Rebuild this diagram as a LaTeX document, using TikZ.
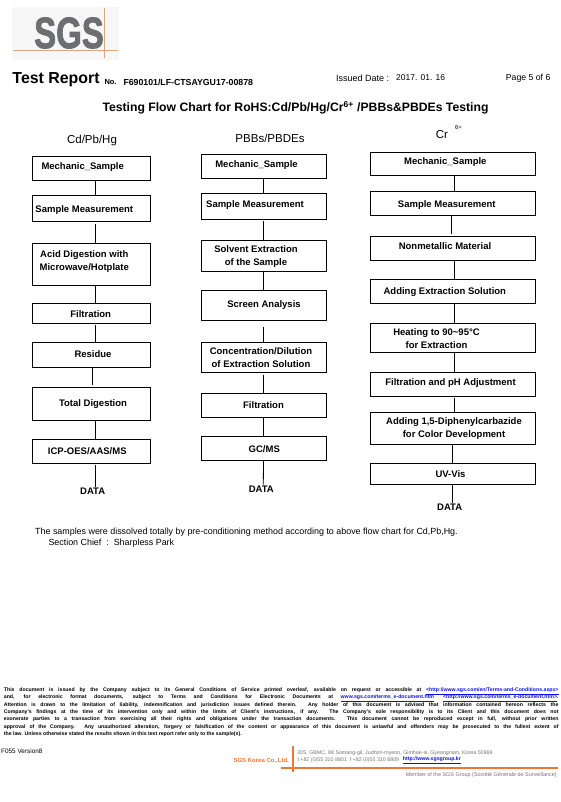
\documentclass[tikz,border=0pt]{standalone}
\usepackage{fontspec}
\setmainfont{Liberation Sans}
\newfontfamily\logofont[FakeBold=2]{Liberation Sans Bold}
\definecolor{sgsorange}{HTML}{EE7733}
\definecolor{sgsgray}{HTML}{6D6E71}
\definecolor{sgsline}{HTML}{D9A878}
\definecolor{sgslink}{HTML}{1111DD}
\tikzset{
  stepbox/.style={draw,rectangle,line width=1pt,inner sep=0pt,outer sep=0pt},
  colA/.style={stepbox,minimum width=118pt},
  colB/.style={stepbox,minimum width=125pt},
  colC/.style={stepbox,minimum width=165.3pt},
  steptext/.style={font=\fontsize{9.5}{13.5}\selectfont\bfseries,align=center,inner sep=0pt},
  datatext/.style={font=\fontsize{9.5}{12}\selectfont\bfseries,inner sep=1pt},
  headtext/.style={font=\fontsize{11.5}{14}\selectfont,inner sep=0pt},
  plain/.style={inner sep=0pt,anchor=west},
  link/.style={line width=.8pt}
}
\begin{document}
\begin{tikzpicture}[x=1pt,y=-1pt]
  \useasboundingbox (0,0) rectangle (561,802);

  % logo
  \node[fill=black!3,minimum width=107pt,minimum height=53pt,inner sep=0pt] (logo) at (65.5,33.5) {};
  \node[text=sgsgray,inner sep=0pt,font=\fontsize{44}{44}\logofont] (sgs) at (69,33) {\scalebox{.75}[1]{SGS}};
  \draw[sgsline,line width=.7pt] (13,50) -- (118,50) (104,8) -- (104,58);

  % page head
  \node[plain,font=\fontsize{15.9}{18}\selectfont\bfseries] (report) at (12.3,79.3) {Test Report};
  \node[plain,font=\fontsize{7.5}{9}\selectfont\bfseries] (no) at (104.3,82) {No.};
  \node[plain,font=\fontsize{8.75}{9}\selectfont\bfseries] (num) at (123.3,82) {F690101/LF-CTSAYGU17-00878};
  \node[plain,font=\fontsize{9}{10}\selectfont] (issued) at (336,78.3) {Issued Date :};
  \node[plain,font=\fontsize{8.5}{10}\selectfont] (date) at (396,77.7) {2017. 01. 16};
  \node[plain,font=\fontsize{8.7}{10}\selectfont] (page) at (505.7,78) {Page 5 of 6};
  \node[plain,font=\fontsize{12.2}{14}\selectfont\bfseries] (title) at (102.3,107.7) {Testing Flow Chart for RoHS:Cd/Pb/Hg/Cr\textsuperscript{6+} /PBBs\&PBDEs Testing};

  % column heads
  \node[headtext] (headA) at (92,140.7) {Cd/Pb/Hg};
  \node[headtext] (headB) at (270,138) {PBBs/PBDEs};
  \node[headtext] (headC) at (442,135) {Cr};
  \node[inner sep=0pt,font=\fontsize{6}{7}\selectfont] (supC) at (458.5,127.5) {6+};

  % Cd/Pb/Hg
  \node[colA,minimum height=24pt,label={[steptext,xshift=-9pt,yshift=2pt]center:Mechanic\_Sample}] (A1) at (91.7,168.7) {};
  \node[colA,minimum height=25.7pt,label={[steptext,xshift=-7.4pt,yshift=-1pt]center:Sample Measurement}] (A2) at (91.7,208.8) {};
  \node[colA,minimum height=42pt,label={[steptext,xshift=-7.4pt,yshift=3pt]center:Acid Digestion with\\Microwave/Hotplate}] (A3) at (91.7,264.3) {};
  \node[colA,minimum height=20pt,label={[steptext,xshift=-1pt,yshift=-1pt]center:Filtration}] (A4) at (91.7,313.3) {};
  \node[colA,minimum height=25.7pt,label={[steptext,xshift=1.3pt,yshift=1pt]center:Residue}] (A5) at (91.7,355.1) {};
  \node[colA,minimum height=32.7pt,label={[steptext,xshift=1.3pt]center:Total Digestion}] (A6) at (91.7,403.7) {};
  \node[colA,minimum height=24pt,label={[steptext,xshift=-4.4pt]center:ICP-OES/AAS/MS}] (A7) at (91.7,451) {};
  \node[datatext] (A8) at (92.7,491) {DATA};

  % PBBs/PBDEs
  \node[colB,minimum height=24pt,label={[steptext,xshift=-7pt,yshift=1.6pt]center:Mechanic\_Sample}] (B1) at (263.5,166.3) {};
  \node[colB,minimum height=25.6pt,label={[steptext,xshift=-8.5pt,yshift=1.5pt]center:Sample Measurement}] (B2) at (263.5,206.5) {};
  \node[colB,minimum height=30.7pt,label={[steptext,xshift=-7.5pt]center:Solvent Extraction\\of the Sample}] (B3) at (263.5,256.3) {};
  \node[colB,minimum height=30pt,label={[steptext,xshift=.5pt,yshift=.7pt]center:Screen Analysis}] (B4) at (263.5,305.7) {};
  \node[colB,minimum height=30.4pt,label={[steptext,xshift=-2.5pt]center:Concentration/Dilution\\of Extraction Solution}] (B5) at (263.5,357.5) {};
  \node[colB,minimum height=23.7pt,label={[steptext,yshift=.8pt]center:Filtration}] (B6) at (263.5,405.8) {};
  \node[colB,minimum height=24pt,label={[steptext,xshift=.8pt,yshift=-.3pt]center:GC/MS}] (B7) at (263.5,448.7) {};
  \node[datatext] (B8) at (261.3,489) {DATA};

  % Cr6+
  \node[colC,minimum height=23.4pt,label={[steptext,xshift=-8pt,yshift=1.7pt]center:Mechanic\_Sample}] (C1) at (453.3,164) {};
  \node[colC,minimum height=23.6pt,label={[steptext,xshift=-6.5pt,yshift=-1.2pt]center:Sample Measurement}] (C2) at (453.3,203.5) {};
  \node[colC,minimum height=23.6pt,label={[steptext,xshift=-8.3pt,yshift=2.8pt]center:Nonmetallic Material}] (C3) at (453.3,248.5) {};
  \node[colC,minimum height=23.7pt,label={[steptext,xshift=-8.5pt]center:Adding Extraction Solution}] (C4) at (453.3,291.8) {};
  \node[colC,minimum height=29.3pt,label={[steptext,xshift=-16.8pt,yshift=-1pt]center:Heating to 90\textasciitilde95°C\\for Extraction}] (C5) at (453.3,337.7) {};
  \node[colC,minimum height=24pt,label={[steptext,xshift=-2.8pt,yshift=.7pt]center:Filtration and pH Adjustment}] (C6) at (453.3,384) {};
  \node[colC,minimum height=32.3pt,label={[steptext,xshift=.7pt,yshift=.5pt]center:Adding 1,5-Diphenylcarbazide\\for Color Development}] (C7) at (453.3,428.8) {};
  \node[colC,minimum height=21pt,label={[steptext,xshift=-2.8pt,yshift=-.5pt]center:UV-Vis}] (C8) at (453.3,473.5) {};
  \node[datatext] (C9) at (449.7,507.7) {DATA};

  \path[link] ([xshift=3.3pt]A1.south) edge ([xshift=3.3pt]A2.north);
  \path[link] ([xshift=3.3pt]A2.south) edge [shorten <=2pt] ([xshift=3.3pt]A3.north);
  \path[link] ([xshift=3.3pt]A3.south) edge ([xshift=3.3pt]A4.north);
  \path[link] ([xshift=3.3pt]A4.south) edge [shorten <=2pt] ([xshift=3.3pt]A5.north);
  \path[link] ([xshift=1pt]A5.south) edge [shorten >=2pt] ([xshift=1pt]A6.north);
  \path[link] ([xshift=3.3pt]A6.south) edge ([xshift=3.3pt]A7.north);
  \path[link] ([xshift=3.3pt]A7.south) edge [shorten <=2pt] ([xshift=2.3pt]A8.north);

  \path[link] (B1) edge (B2);
  \path[link] (B2) edge [shorten <=2pt] (B3);
  \path[link] (B3) edge (B4);
  \path[link] (B4) edge [shorten <=6pt] (B5);
  \path[link] (B5) edge [shorten <=2pt] (B6);
  \path[link] (B6) edge (B7);
  \path[link] (B7.south) edge ([xshift=2pt]B8.north);

  \path[link] ([xshift=1pt]C1.south) edge ([xshift=1pt]C2.north);
  \path[link] ([xshift=-2.3pt]C2.south) edge [shorten >=3pt] ([xshift=-2.3pt]C3.north);
  \path[link] ([xshift=1pt]C3.south) edge ([xshift=1pt]C4.north);
  \path[link] ([xshift=1pt]C4.south) edge ([xshift=1pt]C5.north);
  \path[link] ([xshift=1pt]C5.south) edge ([xshift=1pt]C6.north);
  \path[link] ([xshift=1pt]C6.south) edge [shorten <=1.5pt] ([xshift=1pt]C7.north);
  \path[link] ([xshift=-1pt]C7.south) edge ([xshift=-1pt]C8.north);
  \path[link] ([xshift=-1pt]C8.south) edge ([xshift=2.6pt]C9.north);

  % notes
  \node[plain,font=\fontsize{8.9}{10}\selectfont] (note) at (35,531.7) {The samples were dissolved totally by pre-conditioning method according to above flow chart for Cd,Pb,Hg.};
  \node[plain,font=\fontsize{8.9}{10}\selectfont] (chief) at (48.3,542.7) {Section Chief \ :\ \ Sharpless Park};

  % foot of page
  \node[anchor=north west,inner sep=0pt,text width=554.6pt,align=justify,font=\fontsize{5.2}{7.35}\selectfont\bfseries] (terms) at (3.7,687.5) {\tolerance=9999 \emergencystretch=20pt This document is issued by the Company subject to its General Conditions of Service printed overleaf, available on request or accessible at \textcolor{sgslink}{\underline{<http://www.sgs.com/en/Terms-and-Conditions.aspx>}}\linebreak
and, for electronic format documents, subject to Terms and Conditions for Electronic Documents at \textcolor{sgslink}{\underline{www.sgs.com/terms\_e-document.htm}}\hspace{9pt}\textcolor{sgslink}{\underline{<http://www.sgs.com/terms\_e-document.htm>}}.\linebreak
Attention is drawn to the limitation of liability, indemnification and jurisdiction issues defined therein. Any holder of this document is advised that information contained hereon reflects the\linebreak
Company's findings at the time of its intervention only and within the limits of Client's instructions, if any. The Company's sole responsibility is to its Client and this document does not\linebreak
exonerate parties to a transaction from exercising all their rights and obligations under the transaction documents. This document cannot be reproduced except in full, without prior written\linebreak
approval of the Company. Any unauthorized alteration, forgery or falsification of the content or appearance of this document is unlawful and offenders may be prosecuted to the fullest extent of\linebreak
the law. Unless otherwise stated the results shown in this test report refer only to the sample(s).};
  \node[plain,font=\fontsize{6.4}{8}\selectfont] (form) at (1,751.7) {F055 Version8};
  \node[plain,text=sgsorange,font=\fontsize{6}{8}\selectfont\bfseries] (korea) at (233.3,760.3) {SGS Korea Co.,Ltd.};
  \node[plain,text=black!55,font=\fontsize{5.3}{6}\selectfont] (addr) at (297.3,752.7) {205, GBMC, 88 Somang-gil, Judhon-myeon, Gimhae-si, Gyeongnam, Korea 50969};
  \node[plain,text=black!55,font=\fontsize{5.3}{6}\selectfont] (tel) at (297.3,760) {t +82 (0)55 310 8801\ \ f +82 (0)55 310 8809};
  \node[plain,text=sgslink,font=\fontsize{5.2}{6}\selectfont\bfseries] (web) at (402.7,760) {\underline{http://www.sgsgroup.kr}};
  \draw[sgsorange,line width=1.5pt] (281,768) -- (558.3,768) (293,745.7) -- (293,771.7);
  \node[plain,text=black!55,font=\fontsize{5.45}{7}\selectfont] (member) at (405.7,775) {Member of the SGS Group (Société Générale de Surveillance)};
\end{tikzpicture}
\end{document}
